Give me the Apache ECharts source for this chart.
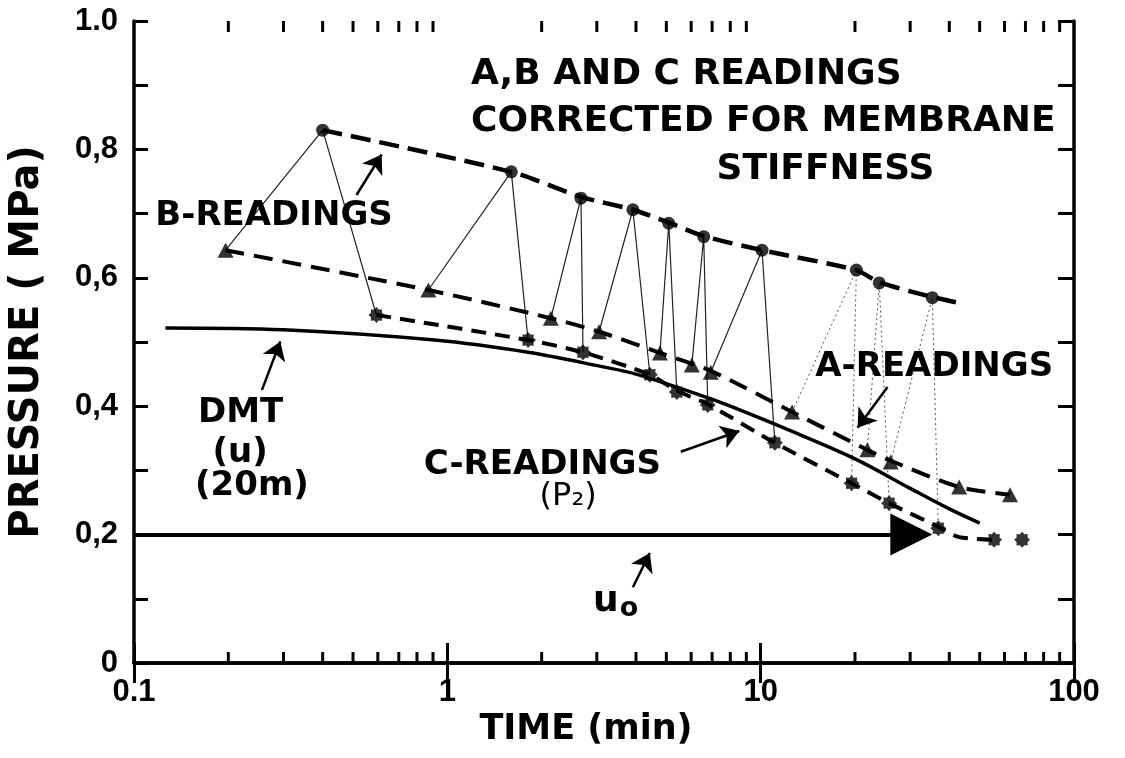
<!DOCTYPE html>
<html><head><meta charset="utf-8">
<script src="https://cdn.jsdelivr.net/npm/echarts@6/dist/echarts.min.js"></script>
<style>html,body{margin:0;padding:0;background:#fff}#c{width:1125px;height:758px}</style>
</head><body><div id="c"></div>
<script>
// ---------------- data ----------------
const xTickValues = [0.1, 1, 10, 100];
const xTickText = ['0.1', '1', '10', '100'];
const yTickValues = [0, 0.2, 0.4, 0.6, 0.8, 1.0];
const yTickText = ['0', '0,2', '0,4', '0,6', '0,8', '1.0'];
const xMinorTicks = [0.2,0.3,0.4,0.5,0.6,0.7,0.8,0.9, 2,3,4,5,6,7,8,9, 20,30,40,50,60,70,80,90];

// B-readings (circles)
const bReadings = [[0.40,0.830],[1.60,0.765],[2.67,0.724],[3.91,0.706],[5.09,0.685],[6.58,0.664],[10.1,0.643],[20.2,0.612],[23.9,0.592],[35.3,0.569]];
const bTrend = [[0.40,0.830],[1.60,0.765],[2.67,0.726],[3.91,0.706],[5.09,0.686],[6.58,0.665],[10.1,0.643],[20.2,0.612],[23.9,0.593],[35.3,0.570],[43,0.561]];
// A-readings (triangles)
const aReadings = [[0.196,0.643],[0.87,0.581],[2.14,0.537],[3.05,0.516],[4.77,0.483],[6.03,0.464],[6.93,0.453],[12.6,0.391],[21.9,0.332],[26.0,0.313],[43.0,0.274],[62.5,0.262]];
const aTrend = [[0.196,0.643],[0.87,0.581],[2.14,0.537],[3.05,0.516],[4.77,0.483],[6.93,0.455],[12.6,0.391],[21.9,0.332],[26.0,0.315],[43.0,0.274],[62.5,0.262]];
// C-readings (p2, stars)
const cReadings = [[0.594,0.542],[1.81,0.503],[2.71,0.484],[4.43,0.449],[5.40,0.422],[6.78,0.402],[11.1,0.343],[19.5,0.280],[25.7,0.249],[36.9,0.210],[55.6,0.192],[68.3,0.192]];
const cTrend = [[0.594,0.542],[1.81,0.503],[2.71,0.484],[4.43,0.449],[5.40,0.424],[6.78,0.403],[11.1,0.343],[19.5,0.280],[25.7,0.249],[36.9,0.212],[43,0.196],[55.6,0.192]];
// DMT (u) at 20 m
const dmtCurve = [[0.126,0.522],[0.30,0.519],[0.91,0.503],[1.81,0.484],[3.09,0.462],[4.0,0.450],[6.8,0.413],[8.0,0.400],[12,0.365],[20,0.318],[30,0.272],[40,0.240],[50,0.218]];
// hydrostatic pressure u0 (start, arrow tip)
const u0Line = [[0.1,0.2],[35.3,0.2]];
// thin links between the A, B, C readings of one test: [A index, B index, C index]
const links = [[0,0,0],[1,1,1],[2,2,2],[3,3,3],[4,4,4],[5,5,5],[6,6,6],[7,7,7],[8,8,8],[9,9,9]];

// annotations (data coordinates)
const notes = [
  {text:'A,B AND C READINGS', at:[1.19,0.916], align:'left'},
  {text:'CORRECTED FOR MEMBRANE', at:[1.19,0.843], align:'left'},
  {text:'STIFFNESS', at:[16.1,0.768], align:'center'},
  {text:'B-READINGS', at:[0.117,0.696], align:'left'},
  {text:'A-READINGS', at:[35.8,0.461], align:'center'},
  {text:'C-READINGS', at:[2.01,0.308], align:'center'},
  {text:'DMT', at:[0.219,0.389], align:'center'},
  {text:'(u)', at:[0.218,0.327], align:'center'},
  {text:'(20m)', at:[0.238,0.276], align:'center'}
];
const notesThin = [
  {text:'(P₂)', at:[2.43,0.259], align:'center'},
];
const noteU0 = {at:[3.38,0.095]};
// leader arrows: [from, tip]
const arrows = [
  [[0.513,0.729],[0.639,0.804]],
  [[0.256,0.425],[0.30,0.514]],
  [[5.56,0.329],[9.1,0.366]],
  [[25.4,0.430],[19.6,0.355]],
  [[3.91,0.118],[4.56,0.184]]
];

// ---------------- chart ----------------
const FONT = 'DejaVu Sans';
const NUMFONT = 'Liberation Sans';
const U0_HEAD = [22, 42];
const ARROW_HEAD = [11, 18];
function starPath(n, r1, r2){
  let d = '';
  for (let i = 0; i < n*2; i++){
    const r = i % 2 ? r2 : r1;
    const a = Math.PI * i / n - Math.PI/2;
    d += (i ? 'L' : 'M') + (r*Math.cos(a)).toFixed(3) + ',' + (r*Math.sin(a)).toFixed(3);
  }
  return 'path://' + d + 'Z';
}
const STAR = starPath(8, 1, 0.74);

function labelFor(vals, texts, v){
  for (let i = 0; i < vals.length; i++){
    if (Math.abs(vals[i] - v) < 1e-6 * Math.max(1, Math.abs(v))) return texts[i];
  }
  return '';
}

const chart = echarts.init(document.getElementById('c'));
const axisLineStyle = {color:'#000', width:3.5};

const linkSeries = links.map((l, i) => ({
  type:'line', silent:true, symbol:'none', z:2,
  data:[aReadings[l[0]], bReadings[l[1]], cReadings[l[2]]],
  lineStyle: i < 7 ? {color:'#222', width:1.2} : {color:'#555', width:1, type:[2,3]}
}));

const option = {
  animation:false,
  backgroundColor:'#fff',
  grid:{left:132, right:51, top:21, bottom:95},
  xAxis:[
    {type:'log', logBase:10, min:0.1, max:100, position:'bottom',
     axisLine:{lineStyle:axisLineStyle},
     axisTick:{inside:true, length:20, lineStyle:{color:'#000', width:3}},
     axisLabel:{formatter:v => labelFor(xTickValues, xTickText, v), color:'#000', fontFamily:NUMFONT, fontWeight:'bold', fontSize:31, margin:14},
     splitLine:{show:false},
     name:'TIME (min)', nameLocation:'middle', nameGap:44,
     nameTextStyle:{fontFamily:FONT, fontWeight:'bold', fontSize:35, color:'#000', padding:[0,36,0,0]}},
    {type:'log', logBase:10, min:0.1, max:100, position:'top',
     axisLine:{lineStyle:axisLineStyle},
     axisTick:{inside:true, length:20, lineStyle:{color:'#000', width:3}},
     axisLabel:{show:false}, splitLine:{show:false}}
  ],
  yAxis:[
    {type:'value', min:0, max:1, interval:0.1, position:'left',
     axisLine:{show:true, lineStyle:axisLineStyle},
     axisTick:{show:true, inside:true, length:14, lineStyle:{color:'#000', width:3}},
     axisLabel:{formatter:v => labelFor(yTickValues, yTickText, v), color:'#000', fontFamily:NUMFONT, fontWeight:'bold', fontSize:31, margin:16},
     splitLine:{show:false},
     name:'PRESSURE ( MPa)', nameLocation:'middle', nameGap:86, nameRotate:90,
     nameTextStyle:{fontFamily:FONT, fontWeight:'bold', fontSize:40, color:'#000'}},
    {type:'value', min:0, max:1, interval:0.1, position:'right',
     axisLine:{show:true, lineStyle:axisLineStyle},
     axisTick:{show:true, inside:true, length:16, lineStyle:{color:'#000', width:3}},
     axisLabel:{show:false}, splitLine:{show:false}}
  ],
  series:[
    {type:'custom', name:'minor ticks', silent:true, clip:false, z:5,
     data: xMinorTicks.map(v => [v, 0]),
     renderItem:(params, api) => {
       const v = api.value(0);
       const b = api.coord([v, 0]);
       const t = api.coord([v, 1]);
       return {type:'group', children:[
         {type:'line', shape:{x1:b[0], y1:b[1], x2:b[0], y2:b[1]-11}, style:{stroke:'#000', lineWidth:3}},
         {type:'line', shape:{x1:t[0], y1:t[1], x2:t[0], y2:t[1]+11}, style:{stroke:'#000', lineWidth:3}}
       ]};
     }},
    ...linkSeries,
    {type:'line', name:'B trend', data:bTrend, symbol:'none', smooth:0.25, z:3,
     lineStyle:{color:'#000', width:4.5, type:[20,9]}},
    {type:'line', name:'A trend', data:aTrend, symbol:'none', smooth:0.25, z:3,
     lineStyle:{color:'#000', width:4, type:[19,10]}},
    {type:'line', name:'C trend', data:cTrend, symbol:'none', smooth:0.25, z:3,
     lineStyle:{color:'#000', width:4, type:[15,9]}},
    {type:'line', name:'DMT', data:dmtCurve, symbol:'none', smooth:0.35, z:3,
     lineStyle:{color:'#000', width:3.5}},
    {type:'scatter', name:'B-readings', data:bReadings, symbol:'circle', symbolSize:13, z:6,
     itemStyle:{color:'#000'}},
    {type:'scatter', name:'A-readings', data:aReadings, symbol:'triangle', symbolSize:[16,15], z:6,
     itemStyle:{color:'#000'}},
    {type:'scatter', name:'C-readings', data:cReadings, symbol:STAR, symbolSize:16, z:6,
     itemStyle:{color:'#000'}},
    {type:'lines', id:'u0', name:'u0', coordinateSystem:'cartesian2d', z:4,
     symbol:['none','triangle'], symbolSize:U0_HEAD,
     lineStyle:{color:'#000', width:4, opacity:1},
     data:[{coords:u0Line}]},
    {type:'lines', id:'arrows', name:'arrows', coordinateSystem:'cartesian2d', z:4,
     symbol:['none','arrow'], symbolSize:ARROW_HEAD,
     lineStyle:{color:'#000', width:2.5, opacity:1},
     data:arrows.map(a => ({coords:a}))}
  ]
};
chart.setOption(option);

const finder = {xAxisIndex:0, yAxisIndex:0};
function px(at){ return chart.convertToPixel(finder, at); }
// the arrow head symbol is centred on the segment end: pull the end back by half
// the head length so that the tip lands on the given data point
function backOff(seg, headLen){
  const a = px(seg[0]), b = px(seg[1]);
  const dx = b[0]-a[0], dy = b[1]-a[1];
  const L = Math.hypot(dx, dy);
  const e = [b[0] - dx/L*headLen/2, b[1] - dy/L*headLen/2];
  return [seg[0], chart.convertFromPixel(finder, e)];
}

const graphics = [];
notes.forEach((n, i) => {
  const p = px(n.at);
  const size = i < 3 ? 36 : 34;
  graphics.push({type:'text', x:p[0], y:p[1], z:10,
    style:{text:n.text, fill:'#000', font:'bold ' + size + 'px "' + FONT + '"', align:n.align, verticalAlign:'middle'}});
});
notesThin.forEach(n => {
  const p = px(n.at);
  graphics.push({type:'text', x:p[0], y:p[1], z:10,
    style:{text:n.text, fill:'#000', font:'normal 32px "' + FONT + '"', align:n.align, verticalAlign:'middle'}});
});
{
  const p = px(noteU0.at);
  graphics.push({type:'text', x:p[0]-20, y:p[1], z:10,
    style:{text:'u{s|o}', fill:'#000', fontFamily:FONT, fontWeight:'bold', fontSize:36, align:'left', verticalAlign:'middle',
      rich:{s:{fontFamily:FONT, fontWeight:'bold', fontSize:27, fill:'#000', padding:[14,0,0,1]}}}});
}
chart.setOption({
  graphic:graphics,
  series:[
    {id:'u0', data:[{coords:backOff(u0Line, U0_HEAD[1])}]},
    {id:'arrows', data:arrows.map(a => ({coords:backOff(a, ARROW_HEAD[1])}))}
  ]
});
</script>
</body></html>
